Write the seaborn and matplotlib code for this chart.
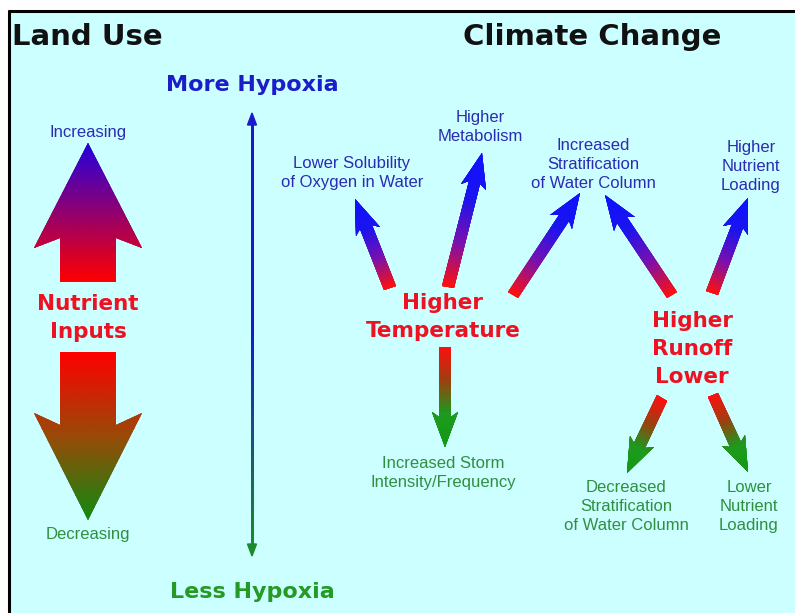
import numpy as np
import matplotlib.pyplot as plt
import seaborn as sns
from matplotlib.patches import Polygon, Rectangle

sns.set_theme(style="white")
plt.rcParams['font.family'] = ['Liberation Sans', 'DejaVu Sans']

# --- headings ---
heading_text = ["Land Use", "Climate Change"]
heading_x = [12, 592]
heading_y = [45, 45]
heading_ha = ["left", "center"]

# --- hypoxia scale ---
hypoxia_text = ["More Hypoxia", "Less Hypoxia"]
hypoxia_y = [91, 598]
hypoxia_x = 252
hypoxia_top = 113
hypoxia_bottom = 556

# --- red driver labels ---
driver_lines = [["Nutrient", "Inputs"],
                ["Higher", "Temperature"],
                ["Higher", "Runoff", "Lower"]]
driver_x = [88, 443, 692]
driver_y = [310, 309, 327]

# --- small effect labels (up = more hypoxia, down = less) ---
effect_lines = [["Increasing"],
                ["Decreasing"],
                ["Lower Solubility", "of Oxygen in Water"],
                ["Higher", "Metabolism"],
                ["Increased", "Stratification", "of Water Column"],
                ["Higher", "Nutrient", "Loading"],
                ["Increased Storm", "Intensity/Frequency"],
                ["Decreased", "Stratification", "of Water Column"],
                ["Lower", "Nutrient", "Loading"]]
effect_x = [88, 88, 352, 480, 593, 751, 443, 626, 749]
effect_y = [137, 539, 168, 122, 150, 152, 468, 492, 492]
effect_kind = ["up", "down", "up", "up", "up", "up", "down", "down", "down"]

# --- big land use arrows ---
land_x = 88
land_tail_y = [282, 352]
land_tip_y = [143, 520]
land_kind = ["up", "down"]
land_notch = [10, 12]

# --- climate arrows ---
arrow_tail_x = [390, 448, 513, 672, 712, 445, 662, 713]
arrow_tail_y = [288, 287, 295, 295, 293, 347, 398, 395]
arrow_tip_x = [355, 482, 580, 605, 748, 445, 627, 748]
arrow_tip_y = [199, 153, 193, 195, 198, 447, 473, 472]
arrow_kind = ["up", "up", "up", "up", "up", "down", "down", "down"]

blue_txt = "#2b2bb3"
green_txt = "#2f8f3f"
red_txt = "#ee1122"

small_cmaps = {
    "up": sns.blend_palette(["#ff1010", "#7a10b0", "#1a14f0", "#1010ff"], as_cmap=True),
    "down": sns.blend_palette(["#ff1010", "#a04010", "#1f9a1f", "#139913"], as_cmap=True),
}
big_cmaps = {
    "up": sns.blend_palette(["#ff0000", "#2400e0"], as_cmap=True),
    "down": sns.blend_palette(["#ff0000", "#9a4a08", "#108a10"], as_cmap=True),
}


def gradient_arrow(ax, x0, y0, x1, y1, w, hw, hl, notch, cmap):
    dx, dy = x1 - x0, y1 - y0
    length = np.hypot(dx, dy)
    ux, uy = dx / length, dy / length
    px, py = -uy, ux
    local = [(0, -w / 2), (length - hl, -w / 2), (length - hl - notch, -hw / 2),
             (length, 0), (length - hl - notch, hw / 2), (length - hl, w / 2), (0, w / 2)]
    pts = np.array([(x0 + a * ux + b * px, y0 + a * uy + b * py) for a, b in local])
    poly = Polygon(pts, closed=True, facecolor="none", edgecolor="none")
    ax.add_patch(poly)
    xs = np.linspace(pts[:, 0].min() - 2, pts[:, 0].max() + 2, 60)
    ys = np.linspace(pts[:, 1].min() - 2, pts[:, 1].max() + 2, 60)
    X, Y = np.meshgrid(xs, ys)
    T = np.clip(((X - x0) * ux + (Y - y0) * uy) / length, 0, 1)
    mesh = ax.pcolormesh(X, Y, T, cmap=cmap, vmin=0, vmax=1, shading="gouraud")
    mesh.set_clip_path(poly)


fig = plt.figure(figsize=(7.95, 6.13), dpi=100)
ax = fig.add_axes([0, 0, 1, 1])

# panel background and border
ax.add_patch(Rectangle((9, 11), 790, 610, facecolor="#ccffff", edgecolor="none", zorder=0))
ax.plot([8.5, 8.5], [10, 613], color="black", lw=2.2, solid_capstyle="butt")
ax.plot([7.5, 795], [11, 11], color="black", lw=2.2, solid_capstyle="butt")

for t, x, y, ha in zip(heading_text, heading_x, heading_y, heading_ha):
    ax.text(x, y, t, ha=ha, va="baseline", fontsize=21, fontweight="bold",
            family="DejaVu Sans", color="#111111")

# hypoxia scale line with a blue-to-green gradient
line_cmap = sns.blend_palette(["#1a1acc", "#1a1acc", "#1a8a2a"], as_cmap=True)
grad = np.linspace(0, 1, 200).reshape(-1, 1)
ax.imshow(grad, cmap=line_cmap, aspect="auto", origin="upper", zorder=2,
          extent=(hypoxia_x - 1.2, hypoxia_x + 1.2, hypoxia_bottom - 10, hypoxia_top + 10))
ax.add_patch(Polygon([(hypoxia_x, hypoxia_top), (hypoxia_x - 4.5, hypoxia_top + 12),
                      (hypoxia_x + 4.5, hypoxia_top + 12)], color="#1a1acc", zorder=2))
ax.add_patch(Polygon([(hypoxia_x, hypoxia_bottom), (hypoxia_x - 4.5, hypoxia_bottom - 12),
                      (hypoxia_x + 4.5, hypoxia_bottom - 12)], color="#1a8a2a", zorder=2))
for t, y, c in zip(hypoxia_text, hypoxia_y, ["#1c1cc8", "#249a24"]):
    ax.text(hypoxia_x, y, t, ha="center", va="baseline", fontsize=16, fontweight="bold",
            family="DejaVu Sans", color=c)

# big land use arrows
for ty, py_, kind, notch in zip(land_tail_y, land_tip_y, land_kind, land_notch):
    gradient_arrow(ax, land_x, ty, land_x, py_, 56, 108, 95, notch, big_cmaps[kind])

# climate arrows
for x0, y0, x1, y1, kind in zip(arrow_tail_x, arrow_tail_y, arrow_tip_x, arrow_tip_y, arrow_kind):
    gradient_arrow(ax, x0, y0, x1, y1, 12, 26, 30, 5, small_cmaps[kind])

# red driver labels
for lines, x, y in zip(driver_lines, driver_x, driver_y):
    for i, s in enumerate(lines):
        ax.text(x, y + 28 * i, s, ha="center", va="baseline", fontsize=15.5,
                fontweight="bold", family="DejaVu Sans", color=red_txt)

# small effect labels
for lines, x, y, kind in zip(effect_lines, effect_x, effect_y, effect_kind):
    col = blue_txt if kind == "up" else green_txt
    for i, s in enumerate(lines):
        ax.text(x, y + 19 * i, s, ha="center", va="baseline", fontsize=12, color=col)

ax.set_xlim(0, 795)
ax.set_ylim(613, 0)
ax.axis("off")

fig.savefig("out.png", dpi=100)
